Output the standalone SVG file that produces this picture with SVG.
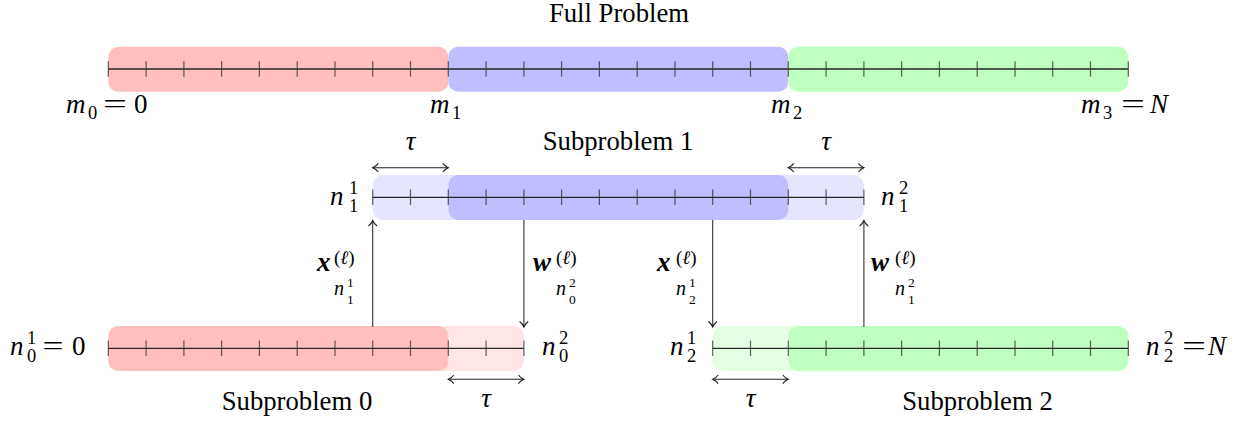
<svg xmlns="http://www.w3.org/2000/svg" width="1247" height="424" viewBox="0 0 1247 424" font-family="Liberation Serif, serif">
<style>
text{fill:#000}
.t{font-size:26.7px;text-anchor:middle}
.mi{font-size:27px;font-style:italic}
.mr{font-size:27px}
.sc{font-size:18.5px}
.ss{font-size:13.5px}
.bx{font-size:27px;font-style:italic;font-weight:bold}
.ell{font-size:19px}
.i{font-style:italic}
.ni{font-size:20px;font-style:italic}
.tau{font-size:27px;font-style:italic;text-anchor:middle}
.axis{stroke:#262626;stroke-width:1.3;fill:none}
.tick{stroke:#3a3a3a;stroke-width:1.2;stroke-opacity:0.8;fill:none}
.conn{stroke:#333;stroke-width:1.1;fill:none}
.dim{stroke:#222;stroke-width:1.1;fill:none;marker-start:url(#to);marker-end:url(#to)}
.red{fill:#ffbfbf}.redl{fill:#ffe5e5}
.blue{fill:#bfbfff}.bluel{fill:#e5e5ff}
.green{fill:#bfffbf}.greenl{fill:#e5ffe5}
</style>
<defs>
<marker id="to" viewBox="-8 -6 10 12" refX="0" refY="0" markerWidth="10" markerHeight="12" markerUnits="userSpaceOnUse" orient="auto-start-reverse">
<path d="M-5.5,-4.3 C-3.8,-2 -1.2,-0.5 0,0 C-1.2,0.5 -3.8,2 -5.5,4.3" fill="none" stroke="#222" stroke-width="1.1"/>
</marker>
</defs>

<g id="full-problem" font-family="Liberation Serif, serif">
<text class="t" x="619" y="22">Full Problem</text>
<rect class="red" x="108.3" y="46.7" width="340" height="45" rx="10"/>
<rect class="blue" x="448.3" y="46.7" width="340" height="45" rx="10"/>
<rect class="green" x="788.3" y="46.7" width="340" height="45" rx="10"/>
<path class="axis" d="M108.3,69H1128.3"/>
<path class="tick" d="M108.3,61.2V76.8M146.1,61.2V76.8M183.9,61.2V76.8M221.6,61.2V76.8M259.4,61.2V76.8M297.2,61.2V76.8M335,61.2V76.8M372.7,61.2V76.8M410.5,61.2V76.8M448.3,61.2V76.8M486.1,61.2V76.8M523.9,61.2V76.8M561.6,61.2V76.8M599.4,61.2V76.8M637.2,61.2V76.8M675,61.2V76.8M712.7,61.2V76.8M750.5,61.2V76.8M788.3,61.2V76.8M826.1,61.2V76.8M863.9,61.2V76.8M901.6,61.2V76.8M939.4,61.2V76.8M977.2,61.2V76.8M1015,61.2V76.8M1052.7,61.2V76.8M1090.5,61.2V76.8M1128.3,61.2V76.8"/>
<text><tspan class="mi" x="66" y="113">m</tspan><tspan class="sc" x="88" y="119">0</tspan><tspan class="mr" x="103" y="113" textLength="24" lengthAdjust="spacingAndGlyphs">=</tspan><tspan class="mr" x="134" y="113">0</tspan></text>
<text><tspan class="mi" x="430" y="113">m</tspan><tspan class="sc" x="452" y="119">1</tspan></text>
<text><tspan class="mi" x="771" y="113">m</tspan><tspan class="sc" x="793" y="119">2</tspan></text>
<text><tspan class="mi" x="1081" y="113">m</tspan><tspan class="sc" x="1103" y="119">3</tspan><tspan class="mr" x="1121" y="113" textLength="24" lengthAdjust="spacingAndGlyphs">=</tspan><tspan class="mi" x="1150" y="113">N</tspan></text>
</g>

<g id="subproblem-1" font-family="Liberation Serif, serif">
<text class="t" x="618" y="150">Subproblem 1</text>
<path class="dim" d="M372.7,167.7H448.3"/>
<path class="dim" d="M788.3,167.7H863.9"/>
<text class="tau" x="410.5" y="150">τ</text>
<text class="tau" x="826.1" y="150">τ</text>
<rect class="bluel" x="372.7" y="175" width="491.2" height="45" rx="10"/>
<rect class="blue" x="448.3" y="175" width="340" height="45" rx="10"/>
<path class="axis" d="M372.7,197.3H863.9"/>
<path class="tick" d="M372.7,189.5V205.1M410.5,189.5V205.1M448.3,189.5V205.1M486.1,189.5V205.1M523.9,189.5V205.1M561.6,189.5V205.1M599.4,189.5V205.1M637.2,189.5V205.1M675,189.5V205.1M712.7,189.5V205.1M750.5,189.5V205.1M788.3,189.5V205.1M826.1,189.5V205.1M863.9,189.5V205.1"/>
<text><tspan class="mi" x="330" y="205">n</tspan><tspan class="sc" x="349" y="194">1</tspan><tspan class="sc" x="349" y="212">1</tspan></text>
<text><tspan class="mi" x="881" y="205">n</tspan><tspan class="sc" x="899" y="194">2</tspan><tspan class="sc" x="899" y="212">1</tspan></text>
</g>

<g id="subproblem-0" font-family="Liberation Serif, serif">
<rect class="redl" x="108.3" y="326" width="415.6" height="45" rx="10"/>
<rect class="red" x="108.3" y="326" width="340" height="45" rx="10"/>
<path class="axis" d="M108.3,348.3H523.9"/>
<path class="tick" d="M108.3,340.5V356.1M146.1,340.5V356.1M183.9,340.5V356.1M221.6,340.5V356.1M259.4,340.5V356.1M297.2,340.5V356.1M335,340.5V356.1M372.7,340.5V356.1M410.5,340.5V356.1M448.3,340.5V356.1M486.1,340.5V356.1M523.9,340.5V356.1"/>
<path class="dim" d="M448.3,379.3H523.9"/>
<text class="tau" x="486.1" y="407">τ</text>
<text class="t" x="297" y="410">Subproblem 0</text>
<text><tspan class="mi" x="10" y="355">n</tspan><tspan class="sc" x="27" y="344">1</tspan><tspan class="sc" x="27" y="362">0</tspan><tspan class="mr" x="42.5" y="355" textLength="21" lengthAdjust="spacingAndGlyphs">=</tspan><tspan class="mr" x="72" y="355">0</tspan></text>
<text><tspan class="mi" x="542" y="355">n</tspan><tspan class="sc" x="559" y="344">2</tspan><tspan class="sc" x="559" y="362">0</tspan></text>
</g>

<g id="subproblem-2" font-family="Liberation Serif, serif">
<rect class="greenl" x="712.7" y="326" width="415.6" height="45" rx="10"/>
<rect class="green" x="788.3" y="326" width="340" height="45" rx="10"/>
<path class="axis" d="M712.7,348.3H1128.3"/>
<path class="tick" d="M712.7,340.5V356.1M750.5,340.5V356.1M788.3,340.5V356.1M826.1,340.5V356.1M863.9,340.5V356.1M901.6,340.5V356.1M939.4,340.5V356.1M977.2,340.5V356.1M1015,340.5V356.1M1052.7,340.5V356.1M1090.5,340.5V356.1M1128.3,340.5V356.1"/>
<path class="dim" d="M712.7,379.3H788.3"/>
<text class="tau" x="750.5" y="407">τ</text>
<text class="t" x="977.5" y="410">Subproblem 2</text>
<text><tspan class="mi" x="670" y="355">n</tspan><tspan class="sc" x="687" y="344">1</tspan><tspan class="sc" x="687" y="362">2</tspan></text>
<text><tspan class="mi" x="1146" y="355">n</tspan><tspan class="sc" x="1164" y="344">2</tspan><tspan class="sc" x="1164" y="362">2</tspan><tspan class="mr" x="1182" y="355" textLength="24" lengthAdjust="spacingAndGlyphs">=</tspan><tspan class="mi" x="1208" y="355">N</tspan></text>
</g>

<g id="connectors" font-family="Liberation Serif, serif">
<path class="conn" d="M372.7,327V220.5" marker-end="url(#to)"/>
<path class="conn" d="M523.9,220V327" marker-end="url(#to)"/>
<path class="conn" d="M712.7,220V327" marker-end="url(#to)"/>
<path class="conn" d="M863.9,327V220.5" marker-end="url(#to)"/>
<text><tspan class="bx" x="317" y="270.7">x</tspan><tspan class="ell" x="334" y="264">(<tspan class="i">ℓ</tspan>)</tspan><tspan class="ni" x="334" y="295">n</tspan><tspan class="ss" x="347" y="287">1</tspan><tspan class="ss" x="347" y="304">1</tspan></text>
<text><tspan class="bx" x="533" y="270.7">w</tspan><tspan class="ell" x="556" y="264">(<tspan class="i">ℓ</tspan>)</tspan><tspan class="ni" x="556" y="295">n</tspan><tspan class="ss" x="569" y="287">2</tspan><tspan class="ss" x="569" y="304">0</tspan></text>
<text><tspan class="bx" x="657" y="270.7">x</tspan><tspan class="ell" x="676" y="264">(<tspan class="i">ℓ</tspan>)</tspan><tspan class="ni" x="676" y="295">n</tspan><tspan class="ss" x="689" y="287">1</tspan><tspan class="ss" x="689" y="304">2</tspan></text>
<text><tspan class="bx" x="871" y="270.7">w</tspan><tspan class="ell" x="895" y="264">(<tspan class="i">ℓ</tspan>)</tspan><tspan class="ni" x="895" y="295">n</tspan><tspan class="ss" x="908" y="287">2</tspan><tspan class="ss" x="908" y="304">1</tspan></text>
</g>
</svg>
